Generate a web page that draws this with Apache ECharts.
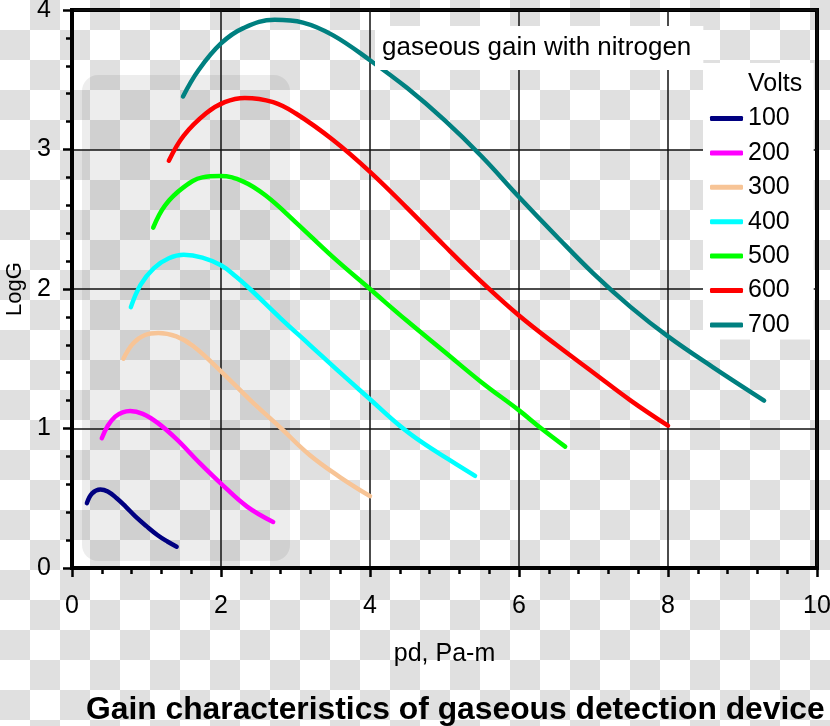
<!DOCTYPE html>
<html><head><meta charset="utf-8">
<script src="https://cdn.jsdelivr.net/npm/echarts@6/dist/echarts.min.js"></script>
<style>
html,body{margin:0;padding:0;}
#c{width:830px;height:726px;background:repeating-conic-gradient(#e0e0e0 0 25%, #ffffff 0 50%) 0 0/60px 60px;}
</style></head><body><div id="c"></div>
<script>
const volts = ['100','200','300','400','500','600','700'];
const colors = ['#000080','#ff00ff','#f7c496','#00ffff','#00ff00','#ff0000','#008080'];
const v100 = [[0.20,0.465],[0.27,0.535],[0.38,0.563],[0.48,0.548],[0.60,0.50],[0.72,0.44],[0.85,0.37],[1.0,0.30],[1.15,0.235],[1.28,0.19],[1.405,0.153]];
const v200 = [[0.40,0.93],[0.48,1.02],[0.58,1.085],[0.68,1.115],[0.78,1.125],[0.95,1.105],[1.15,1.04],[1.4,0.925],[1.7,0.76],[2.0,0.605],[2.35,0.44],[2.7,0.33]];
const v300 = [[0.69,1.50],[0.82,1.61],[0.98,1.67],[1.16,1.685],[1.4,1.66],[1.63,1.59],[2.0,1.41],[2.4,1.20],[2.79,1.01],[3.19,0.81],[3.6,0.65],[4.0,0.515]];
const v400 = [[0.79,1.87],[0.92,2.03],[1.1,2.15],[1.3,2.22],[1.5,2.245],[1.75,2.225],[2.0,2.17],[2.2,2.09],[2.39,2.0],[2.8,1.79],[3.19,1.60],[3.6,1.40],[4.0,1.21],[4.4,1.02],[4.7,0.90],[5.05,0.78],[5.41,0.66]];
const v500 = [[1.09,2.44],[1.25,2.60],[1.5,2.73],[1.75,2.80],[1.99,2.81],[2.3,2.77],[2.6,2.67],[3.0,2.48],[3.5,2.23],[4.0,2.0],[4.5,1.77],[5.0,1.55],[5.5,1.33],[6.0,1.13],[6.3,1.0],[6.62,0.87]];
const v600 = [[1.30,2.92],[1.5,3.1],[1.8,3.26],[2.05,3.34],[2.32,3.37],[2.7,3.34],[3.0,3.26],[3.5,3.07],[4.0,2.84],[4.5,2.58],[5.0,2.31],[5.5,2.05],[6.0,1.81],[6.5,1.60],[7.0,1.40],[7.5,1.20],[8.0,1.02]];
const v700 = [[1.49,3.38],[1.7,3.57],[2.0,3.76],[2.3,3.87],[2.72,3.93],[3.1,3.91],[3.5,3.82],[4.0,3.64],[4.5,3.44],[5.0,3.21],[5.5,2.95],[6.0,2.66],[6.5,2.38],[7.0,2.11],[7.5,1.87],[8.0,1.66],[8.6,1.44],[9.29,1.20]];
const seriesData = [v100,v200,v300,v400,v500,v600,v700];
const xName = 'pd, Pa-m';
const yName = 'LogG';
const chartTitle = 'Gain characteristics of gaseous detection device';
const subTitle = 'gaseous gain with nitrogen';
const legendTitle = 'Volts';

const FONT = '"Liberation Sans", Arial, sans-serif';
const chart = echarts.init(document.getElementById('c'), null, {renderer:'canvas'});
const axisCommon = {
  axisLine:{show:true, onZero:false, lineStyle:{color:'#000', width:4}},
  axisTick:{show:true, length:9, lineStyle:{color:'#000', width:2.5}},
  minorTick:{show:true, splitNumber:5, length:6, lineStyle:{color:'#000', width:2.5}},
  splitLine:{show:true, lineStyle:{color:'#111', width:1.5}},
  axisLabel:{color:'#000', fontSize:25, fontFamily:FONT},
  nameTextStyle:{color:'#000', fontFamily:FONT}
};
chart.setOption({
  backgroundColor:'transparent',
  animation:false,
  title:[
    {text:subTitle, left:375, top:26, backgroundColor:'#fff', padding:[9,12,9,7],
     textStyle:{fontFamily:FONT, fontSize:26, fontWeight:'normal', color:'#000'}},
    {text:legendTitle, left:748, top:72, padding:0,
     textStyle:{fontFamily:FONT, fontSize:25, fontWeight:'normal', color:'#000'}},
    {text:chartTitle, left:86, top:694, padding:0,
     textStyle:{fontFamily:FONT, fontSize:31.8, fontWeight:'bold', color:'#000'}}
  ],
  legend:{
    orient:'vertical', left:703, top:63, padding:[43,24,2,7], backgroundColor:'#fff',
    itemWidth:33, itemHeight:5, itemGap:9.4, icon:'roundRect',
    textStyle:{fontFamily:FONT, fontSize:25, lineHeight:25, color:'#000'},
    data:volts
  },
  grid:{left:72, right:13, top:10, bottom:158, outerBoundsMode:'none', containLabel:false, show:true, borderColor:'#000', borderWidth:4, backgroundColor:'transparent'},
  xAxis:Object.assign({type:'value', min:0, max:10, interval:2, name:xName, nameLocation:'middle', nameGap:74,
    }, axisCommon, {axisLabel:Object.assign({}, axisCommon.axisLabel, {margin:26}),
    nameTextStyle:{color:'#000', fontFamily:FONT, fontSize:25}}),
  yAxis:Object.assign({type:'value', min:0, max:4, interval:1, name:yName, nameLocation:'middle', nameGap:46, nameRotate:90
    }, axisCommon, {axisLabel:Object.assign({}, axisCommon.axisLabel, {margin:21}),
    nameTextStyle:{color:'#000', fontFamily:FONT, fontSize:22}}),
  graphic:[{type:'rect', silent:true, z:-1, shape:{x:82, y:75, width:208, height:486, r:16}, style:{fill:'rgba(0,0,0,0.07)'}}],
  series: volts.map((v,i)=>({
    name:v, type:'line', data:seriesData[i], smooth:0.4, symbol:'none', color:colors[i],
    lineStyle:{width:4.5, color:colors[i], cap:'round', join:'round'}, z:3
  }))
});
</script></body></html>
